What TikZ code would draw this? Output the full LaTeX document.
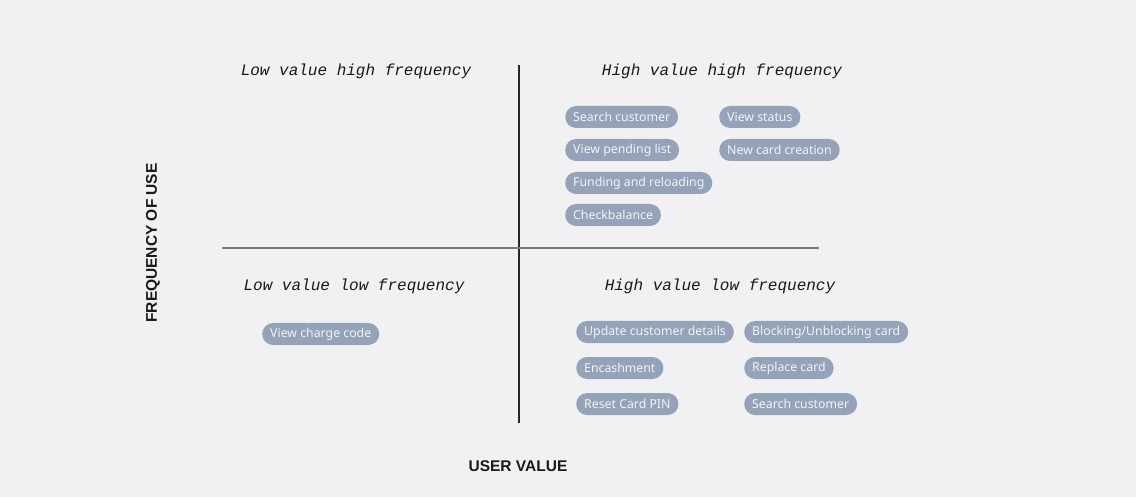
\documentclass[tikz,border=0pt]{standalone}
\usepackage{fontspec}
\setmainfont{Noto Sans}
\newfontfamily\headfont{Liberation Mono}
\newfontfamily\axisfont{Liberation Sans}
\definecolor{bg}{HTML}{F1F1F4}
\definecolor{pillfill}{HTML}{94A3B8}
\definecolor{pilltext}{HTML}{F3F4F6}
\definecolor{axisgrey}{HTML}{7A7A7A}
\tikzset{
	pill/.style={anchor=west, fill=pillfill, text=pilltext, rounded corners=11pt,
		minimum height=22pt, inner xsep=8pt, inner ysep=0pt, font=\fontsize{12.3}{14}\selectfont},
	quad/.style={font=\headfont\itshape\fontsize{16}{18}\selectfont, text=black!90},
	axislabel/.style={font=\axisfont\bfseries\fontsize{15.5}{18}\selectfont, text=black!90}
}
\begin{document}
\begin{tikzpicture}[x=1pt, y=-1pt]
	\fill[bg] (0,0) rectangle (1136,497);
	\useasboundingbox (0,0) rectangle (1136,497);
	\path
		(519,65) coordinate (Ntop)
		(519,423) coordinate (Nbot)
		(222,248) coordinate (Wmid)
		(819,248) coordinate (Emid)
	;
	\draw[line width=1.5pt, black!85] (Ntop) -- (Nbot);
	\draw[line width=2pt, axisgrey] (Wmid) -- (Emid);

	\node[quad] (lvhf) at (356,71) {Low value high frequency};
	\node[quad] (hvhf) at (722,71) {High value high frequency};
	\node[quad] (lvlf) at (354,286) {Low value low frequency};
	\node[quad] (hvlf) at (720,286) {High value low frequency};

	\node[axislabel, rotate=90] (freq) at (153,243) {FREQUENCY OF USE};
	\node[axislabel] (value) at (518,466) {USER VALUE};

	% high value, high frequency
	\node[pill] (search) at (565,117) {Search customer};
	\node[pill] (status) at (719,117) {View status};
	\node[pill] (pending) at (565,150) {View pending list};
	\node[pill] (newcard) at (719,150) {New card creation};
	\node[pill] (funding) at (565,183) {Funding and reloading};
	\node[pill] (balance) at (565,215) {Checkbalance};

	% low value, low frequency
	\node[pill] (charge) at (262,334) {View charge code};

	% high value, low frequency
	\node[pill] (update) at (576,332) {Update customer details};
	\node[pill] (block) at (744,332) {Blocking/Unblocking card};
	\node[pill] (encash) at (576,368) {Encashment};
	\node[pill] (replace) at (744,368) {Replace card};
	\node[pill] (pin) at (576,404) {Reset Card PIN};
	\node[pill] (search2) at (744,404) {Search customer};
\end{tikzpicture}
\end{document}
